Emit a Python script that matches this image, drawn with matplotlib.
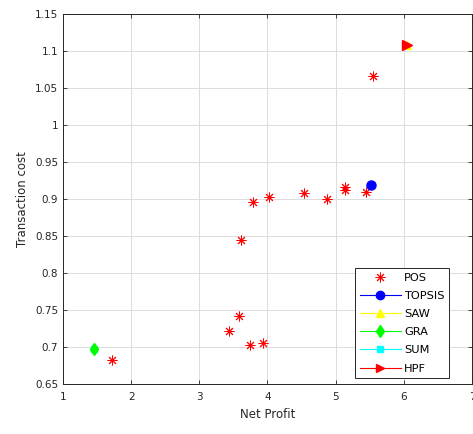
import matplotlib
matplotlib.use("Agg")
import matplotlib.pyplot as plt
from matplotlib.lines import Line2D

pos_x = [1.72, 3.43, 3.58, 3.61, 3.75, 3.79, 3.94, 4.02, 4.53, 4.88, 5.13, 5.13, 5.44, 5.55]
pos_y = [0.682, 0.722, 0.742, 0.845, 0.703, 0.896, 0.705, 0.903, 0.908, 0.900, 0.916, 0.912, 0.909, 1.066]
topsis = (5.52, 0.919)
saw = (6.04, 1.108)
gra = (1.45, 0.697)
sum_ = (1.45, 0.697)
hpf = (6.04, 1.108)

x_ticks = [1, 2, 3, 4, 5, 6, 7]
y_ticks = [0.65, 0.7, 0.75, 0.8, 0.85, 0.9, 0.95, 1.0, 1.05, 1.1, 1.15]
y_labels = ["0.65", "0.7", "0.75", "0.8", "0.85", "0.9", "0.95", "1", "1.05", "1.1", "1.15"]

fig = plt.figure(figsize=(4.73, 4.34), dpi=100)
ax = fig.add_axes([0.133, 0.115, 0.865, 0.853])

ast = (8, 2, 0)
ax.plot(pos_x, pos_y, linestyle='none', marker=ast, color='red', markersize=7, markeredgewidth=0.7)
ax.plot([sum_[0]], [sum_[1]], linestyle='none', marker='s', color='cyan', markersize=4)
ax.plot([saw[0]], [saw[1]], linestyle='none', marker='^', color='yellow', markersize=6)
ax.plot([gra[0]], [gra[1]], linestyle='none', marker='d', color='#00ff00', markersize=6)
ax.plot([topsis[0]], [topsis[1]], linestyle='none', marker='o', color='blue', markersize=6.5)
ax.plot([hpf[0]], [hpf[1]], linestyle='none', marker='>', color='red', markersize=6.5)

ax.set_xlim(1, 7)
ax.set_ylim(0.65, 1.15)
ax.set_xticks(x_ticks)
ax.set_yticks(y_ticks)
ax.set_yticklabels(y_labels)
ax.grid(True, color='#dcdcdc', linewidth=0.7)
ax.set_axisbelow(True)
ax.tick_params(direction='in', top=True, right=True, labelsize=7.5, colors='#262626', length=3, width=0.6)
ax.tick_params(axis='x', pad=6)
for s in ax.spines.values():
    s.set_color('#262626')
    s.set_linewidth(0.7)
ax.set_xlabel("Net Profit", fontsize=8.5, color='#262626', labelpad=4)
ax.set_ylabel("Transaction cost", fontsize=8.5, color='#262626', labelpad=4)

handles = [
    Line2D([], [], linestyle='none', marker=ast, color='red', markersize=7, markeredgewidth=0.7),
    Line2D([], [], color='blue', marker='o', markersize=6, linewidth=0.8),
    Line2D([], [], color='yellow', marker='^', markersize=6, linewidth=0.8),
    Line2D([], [], color='#00ff00', marker='d', markersize=6, linewidth=0.8),
    Line2D([], [], color='cyan', marker='s', markersize=5, linewidth=0.8),
    Line2D([], [], color='red', marker='>', markersize=6, linewidth=0.8),
]
leg = ax.legend(handles, ["POS", "TOPSIS", "SAW", "GRA", "SUM", "HPF"],
                loc='lower right', bbox_to_anchor=(0.944, 0.016), fontsize=8.2,
                fancybox=False, framealpha=1, edgecolor='#262626',
                handlelength=3.6, handletextpad=0.3, borderpad=0.4, labelspacing=0.72,
                borderaxespad=0)
leg.get_frame().set_linewidth(0.7)

fig.savefig("out.png", dpi=100)
